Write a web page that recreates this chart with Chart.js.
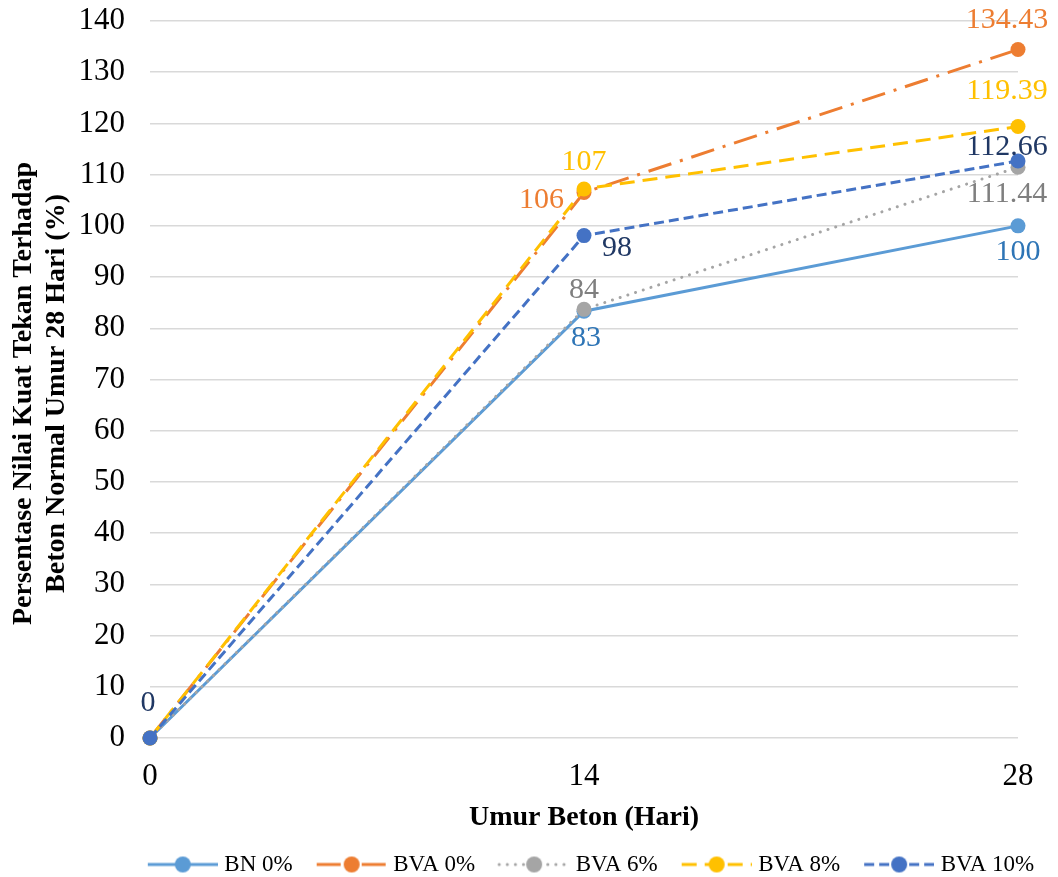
<!DOCTYPE html>
<html>
<head>
<meta charset="utf-8">
<script src="https://cdn.jsdelivr.net/npm/chart.js@4.4.0/dist/chart.umd.min.js"></script>
<style>
  html, body { margin: 0; padding: 0; background: #fff; }
  #wrap { width: 1058px; height: 877px; }
</style>
</head>
<body>
<div id="wrap"><canvas id="myChart"></canvas></div>
<script>
// data
const days = [0, 14, 28];
const bn0 = [0, 83.33, 100];
const bva0 = [0, 106.5, 134.43];
const bva6 = [0, 83.7, 111.44];
const bva8 = [0, 107.2, 119.39];
const bva10 = [0, 98.1, 112.66];

// text of the data labels as printed on the chart
const txtBn0 = ['', '83', '100'];
const txtBva0 = ['', '106', '134.43'];
const txtBva6 = ['', '84', '111.44'];
const txtBva8 = ['', '107', '119.39'];
const txtBva10 = ['0', '98', '112.66'];

const names = ['BN 0%', 'BVA 0%', 'BVA 6%', 'BVA 8%', 'BVA 10%'];

const FONT = '"Liberation Serif", "Times New Roman", serif';

// where each label sits relative to its point: [align, dx, dy]
const placeBn0 = [null, ['center', 2, 27], ['center', 0, 26]];
const placeBva0 = [null, ['right', -20, 8], ['center', -11, -29]];
const placeBva6 = [null, ['center', 0, -19], ['center', -11, 27]];
const placeBva8 = [null, ['center', 0, -27], ['center', -11, -35]];
const placeBva10 = [['center', -2, -35], ['left', 18, 13], ['center', -11, -14]];

function series(i, values, texts, color, textColor, dash, cap, place) {
  return {
    label: names[i],
    data: days.map((d, k) => ({ x: d, y: values[k] })),
    borderColor: color,
    backgroundColor: color,
    borderWidth: 3,
    borderDash: dash,
    borderCapStyle: cap,
    pointRadius: 7.5,
    pointHoverRadius: 7.5,
    pointBorderWidth: 0,
    tension: 0,
    clip: false,
    order: 5 - i,
    pointText: texts,
    textColor: textColor,
    textPlace: place
  };
}

const datasets = [
  series(0, bn0, txtBn0, '#5B9BD5', '#2E75B6', [], 'butt', placeBn0),
  series(1, bva0, txtBva0, '#ED7D31', '#ED7D31', [24, 9, 3, 9], 'butt', placeBva0),
  series(2, bva6, txtBva6, '#A5A5A5', '#7F7F7F', [0.1, 8], 'round', placeBva6),
  series(3, bva8, txtBva8, '#FFC000', '#FFC000', [15, 8], 'butt', placeBva8),
  series(4, bva10, txtBva10, '#4472C4', '#203864', [10, 5], 'butt', placeBva10)
];

// data labels next to the points
const pointLabels = {
  id: 'pointLabels',
  afterDatasetsDraw(chart) {
    const ctx = chart.ctx;
    chart.data.datasets.forEach((ds, i) => {
      const meta = chart.getDatasetMeta(i);
      meta.data.forEach((pt, j) => {
        const txt = ds.pointText[j];
        const p = ds.textPlace[j];
        if (!txt || !p) return;
        ctx.save();
        ctx.font = '30px ' + FONT;
        ctx.fillStyle = ds.textColor;
        ctx.textAlign = p[0];
        ctx.textBaseline = 'middle';
        ctx.fillText(txt, pt.x + p[1], pt.y + p[2]);
        ctx.restore();
      });
    });
  }
};

// the legend row sits right of centre in the original
const legendShift = {
  id: 'legendShift',
  afterLayout(chart) {
    chart.legend.left += 73;
    chart.legend.right += 73;
  }
};

// legend sample: gap, then line with its dash and a marker in the middle
const SAMPLE_W = 83;
function legendSample(ds) {
  const c = document.createElement('canvas');
  c.width = SAMPLE_W + 10; c.height = 20;
  const g = c.getContext('2d');
  g.strokeStyle = ds.borderColor;
  g.lineWidth = 3;
  g.lineCap = ds.borderCapStyle;
  g.setLineDash(ds.borderDash);
  g.beginPath();
  g.moveTo(23, 10); g.lineTo(SAMPLE_W + 10, 10);
  g.stroke();
  g.fillStyle = ds.backgroundColor;
  g.beginPath();
  g.arc(58, 10, 8, 0, Math.PI * 2);
  g.fill();
  return c;
}

new Chart(document.getElementById('myChart'), {
  type: 'line',
  data: { datasets: datasets },
  options: {
    responsive: true,
    maintainAspectRatio: false,
    animation: false,
    layout: { padding: { left: 0, right: 40, top: 21, bottom: -9 } },
    plugins: {
      tooltip: { enabled: false },
      legend: {
        position: 'bottom',
        labels: {
          usePointStyle: true,
          pointStyleWidth: SAMPLE_W,
          padding: 6,
          color: '#000',
          font: { family: FONT, size: 23 },
          generateLabels(chart) {
            return chart.data.datasets.map((ds, i) => ({
              text: ds.label,
              pointStyle: legendSample(ds),
              fillStyle: ds.backgroundColor,
              strokeStyle: ds.borderColor,
              lineWidth: 0,
              fontColor: '#000',
              hidden: false,
              datasetIndex: i
            }));
          }
        }
      }
    },
    scales: {
      x: {
        type: 'linear',
        min: 0,
        max: 28,
        afterFit(s) { s.height = 109; },
        grid: { display: false, drawTicks: false },
        border: { display: false },
        ticks: { stepSize: 14, padding: 20, color: '#000', font: { family: FONT, size: 31 } },
        title: {
          display: true,
          text: 'Umur Beton (Hari)',
          color: '#000',
          font: { family: FONT, size: 28, weight: 'bold' },
          padding: { top: 0, bottom: 12 }
        }
      },
      y: {
        min: 0,
        max: 140,
        afterFit(s) { s.width = 150; },
        grid: { color: '#D9D9D9', lineWidth: 1.5, drawTicks: true, tickLength: 25, tickColor: 'rgba(0,0,0,0)' },
        border: { display: false },
        ticks: { stepSize: 10, padding: 0, color: '#000', font: { family: FONT, size: 31 } },
        title: {
          display: true,
          text: ['Persentase Nilai Kuat Tekan Terhadap    ', 'Beton Normal Umur 28 Hari (%)    '],
          color: '#000',
          font: { family: FONT, size: 28, weight: 'bold', lineHeight: 1.15 },
          padding: { top: 8, bottom: 0 }
        }
      }
    }
  },
  plugins: [pointLabels, legendShift]
});
</script>
</body>
</html>
